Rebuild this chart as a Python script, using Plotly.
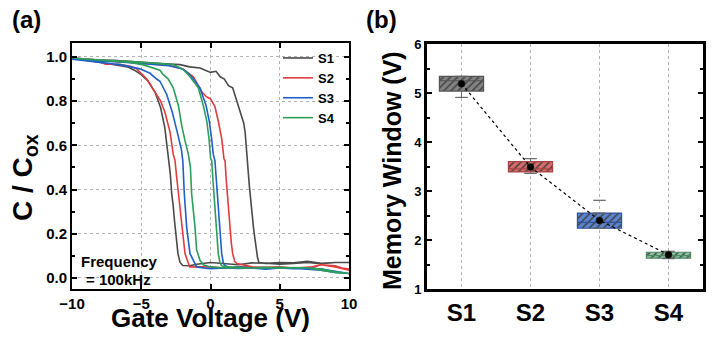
import plotly.graph_objects as go

# ---------------- Panel (a): C-V hysteresis data ----------------
# each series: forward sweep (-10 -> 10) followed by reverse sweep (10 -> -10)
V_S1 = [-10, -9, -8, -7, -6, -5, -4, -3, -2.2, -1.5, -0.76, 0.0, 0.4, 0.7, 1.0, 1.3, 1.6, 1.9, 2.1, 2.25,
        2.4, 2.5, 2.6, 2.7, 2.8, 2.9, 3.0, 3.1, 3.2, 3.3, 3.4, 3.5, 4, 5, 6, 7, 8, 9, 10,
        10, 9, 8, 7, 6, 5, 4, 3, 2, 1, 0, -1, -1.5, -2.0, -2.2, -2.35, -2.5, -2.6, -2.7, -2.8, -2.9,
        -3.0, -3.1, -3.3, -3.6, -4.0, -4.5, -5.0, -5.5, -6, -6.5, -7, -8, -9, -10]
C_S1 = [0.995, 0.99, 0.985, 0.985, 0.98, 0.975, 0.972, 0.968, 0.965, 0.955, 0.95, 0.93, 0.935, 0.91, 0.9, 0.87,
        0.86, 0.80, 0.77, 0.74, 0.70, 0.66, 0.56, 0.50, 0.42, 0.35, 0.29, 0.23, 0.18, 0.13, 0.09, 0.07,
        0.066, 0.07, 0.068, 0.075, 0.066, 0.07, 0.07,
        0.068, 0.07, 0.065, 0.07, 0.066, 0.062, 0.067, 0.068, 0.06, 0.065, 0.07, 0.062, 0.055, 0.056, 0.07,
        0.11, 0.19, 0.26, 0.33, 0.38, 0.47, 0.53, 0.59, 0.68, 0.77, 0.84, 0.89, 0.92, 0.94, 0.955, 0.96,
        0.965, 0.975, 0.985, 0.995]

V_S2 = [-10, -9, -8, -7, -6, -5, -4, -3, -2, -1.24, -0.64, -0.3, 0, 0.32, 0.56, 0.81, 0.97, 1.05, 1.13, 1.21,
        1.31, 1.41, 1.5, 1.6, 1.75, 1.9, 2.5, 3, 4, 5, 6, 7, 7.5, 8, 8.5, 9, 9.5, 10,
        10, 9, 8, 7, 6, 5, 4, 3, 2, 1, 0, -1, -1.5, -1.84, -1.95, -2.08, -2.2, -2.32, -2.45, -2.56, -2.69,
        -2.92, -3.29, -3.6, -4.0, -4.6, -5.33, -5.8, -6.6, -7.6, -8, -9, -10]
C_S2 = [0.995, 0.99, 0.985, 0.983, 0.978, 0.972, 0.965, 0.962, 0.945, 0.91, 0.843, 0.82, 0.81, 0.775, 0.71,
        0.63, 0.54, 0.53, 0.45, 0.38, 0.30, 0.23, 0.16, 0.11, 0.075, 0.065, 0.055, 0.05, 0.048, 0.05, 0.045,
        0.048, 0.05, 0.06, 0.058, 0.055, 0.045, 0.04,
        0.035, 0.05, 0.06, 0.045, 0.046, 0.048, 0.045, 0.048, 0.05, 0.045, 0.05, 0.05, 0.05, 0.11, 0.17,
        0.23, 0.31, 0.38, 0.46, 0.53, 0.56, 0.66, 0.75, 0.80, 0.84, 0.90, 0.946, 0.958, 0.967, 0.967, 0.98,
        0.99, 0.995]

V_S3 = [-10, -9, -8, -7, -6, -5, -4, -3, -2, -1.5, -1.24, -0.76, -0.32, -0.09, 0.08, 0.2, 0.32, 0.42, 0.52,
        0.6, 0.69, 0.75, 0.81, 0.92, 1.05, 1.5, 2, 3, 4, 5, 6, 7, 8, 9, 10,
        10, 9, 8, 7, 6, 5, 4, 3, 2, 1, 0, -0.5, -1.0, -1.48, -1.6, -1.72, -1.8, -1.89, -2.0, -2.1, -2.4,
        -2.76, -3.16, -3.65, -3.89, -4.37, -5.1, -5.8, -6.5, -7, -8, -9, -10]
C_S3 = [0.99, 0.985, 0.98, 0.978, 0.975, 0.97, 0.968, 0.96, 0.945, 0.92, 0.9, 0.86, 0.78, 0.71, 0.63, 0.56,
        0.53, 0.45, 0.38, 0.30, 0.23, 0.16, 0.11, 0.07, 0.055, 0.045, 0.05, 0.045, 0.043, 0.047, 0.045,
        0.04, 0.035, 0.025, 0.02,
        0.02, 0.03, 0.04, 0.045, 0.042, 0.045, 0.04, 0.045, 0.043, 0.045, 0.042, 0.045, 0.05, 0.11, 0.17,
        0.23, 0.30, 0.38, 0.53, 0.58, 0.66, 0.75, 0.83, 0.89, 0.90, 0.926, 0.946, 0.956, 0.965, 0.968,
        0.975, 0.985, 0.99]

V_S4 = [-10, -9, -8, -7, -6, -5, -4, -3, -2.69, -2, -1.48, -0.88, -0.52, -0.27, -0.11, 0.01, 0.09, 0.17, 0.25,
        0.33, 0.4, 0.48, 0.56, 0.68, 0.81, 1.2, 2, 3, 4, 5, 6, 7, 7.5, 8, 9, 10,
        10, 9, 8, 7, 6, 5, 4, 3, 2, 1, 0, -0.52, -0.76, -1.0, -1.12, -1.25, -1.36, -1.45, -1.6, -1.84,
        -2.08, -2.32, -2.69, -3.05, -3.41, -3.65, -4.85, -5.8, -7, -8, -9, -10]
C_S4 = [0.995, 0.99, 0.985, 0.983, 0.98, 0.975, 0.972, 0.968, 0.965, 0.945, 0.91, 0.86, 0.78, 0.71, 0.63,
        0.54, 0.53, 0.45, 0.38, 0.30, 0.23, 0.16, 0.11, 0.07, 0.055, 0.05, 0.048, 0.045, 0.048, 0.045,
        0.047, 0.045, 0.04, 0.035, 0.025, 0.02,
        0.02, 0.028, 0.04, 0.045, 0.045, 0.048, 0.045, 0.045, 0.048, 0.045, 0.05, 0.06, 0.08, 0.127, 0.23,
        0.30, 0.38, 0.50, 0.56, 0.62, 0.69, 0.78, 0.86, 0.90, 0.92, 0.94, 0.964, 0.975, 0.982, 0.985,
        0.99, 0.995]

series_names = ["S1", "S2", "S3", "S4"]
line_colors = ["#4a4a4a", "#e03c3c", "#1f5fc8", "#2e9e5b"]

# ---------------- Panel (b): memory window box statistics ----------------
categories = ["S1", "S2", "S3", "S4"]
q1 = [5.04, 3.39, 2.24, 1.63]
median = [5.25, 3.45, 2.36, 1.68]
q3 = [5.34, 3.60, 2.55, 1.75]
mean = [5.19, 3.49, 2.40, 1.70]
whisker_lo = [4.91, 3.36, 2.24, 1.62]
whisker_hi = [5.34, 3.66, 2.55, 1.77]
outlier_x = ["S3"]
outlier_y = [2.81]

box_fill = ["#838383", "#dd6a6a", "#5a84d2", "#8cc4a2"]
box_edge = ["#555555", "#a84444", "#30529a", "#4c8866"]
hatch = ["#4a4a4a", "#a83434", "#25468e", "#467e5e"]

FONT = "Arial, Liberation Sans, sans-serif"
W, H = 715, 344

fig = go.Figure()

CV_DATA = [(V_S1, C_S1), (V_S2, C_S2), (V_S3, C_S3), (V_S4, C_S4)]
for name, col, (vv, cc) in zip(series_names, line_colors, CV_DATA):
    fig.add_trace(go.Scatter(x=vv, y=cc, mode="lines", name=name,
                             line=dict(color=col, width=1.6), xaxis="x", yaxis="y"))

xi = list(range(len(categories)))
box_w = 0.64
fig.add_trace(go.Bar(x=xi, base=q1, y=[b - a for a, b in zip(q1, q3)], width=box_w,
                     marker=dict(color=box_fill, opacity=1,
                                 pattern=dict(shape="/", fgcolor=hatch, fgopacity=1, size=5,
                                              solidity=0.3, fillmode="overlay"),
                                 line=dict(color=box_edge, width=1.2)),
                     xaxis="x2", yaxis="y2", showlegend=False))

for i in xi:
    # median line
    fig.add_trace(go.Scatter(x=[i - box_w / 2, i + box_w / 2], y=[median[i], median[i]], mode="lines",
                             line=dict(color=box_edge[i], width=1.2), xaxis="x2", yaxis="y2", showlegend=False))
    # whiskers
    fig.add_trace(go.Scatter(x=[i, i, None, i, i], y=[q1[i], whisker_lo[i], None, q3[i], whisker_hi[i]],
                             mode="lines", line=dict(color="#666666", width=1), xaxis="x2", yaxis="y2",
                             showlegend=False))
    fig.add_trace(go.Scatter(x=[i, i], y=[whisker_lo[i], whisker_hi[i]], mode="markers",
                             marker=dict(symbol="line-ew", size=9, line=dict(color="#666666", width=1.2)),
                             xaxis="x2", yaxis="y2", showlegend=False))

fig.add_trace(go.Scatter(x=[categories.index(c) for c in outlier_x], y=outlier_y, mode="markers",
                         marker=dict(symbol="line-ew", size=9, line=dict(color="#666666", width=1.2)),
                         xaxis="x2", yaxis="y2", showlegend=False))

fig.add_trace(go.Scatter(x=xi, y=mean, mode="lines", line=dict(color="black", width=1.2, dash="dot"),
                         xaxis="x2", yaxis="y2", showlegend=False))
fig.add_trace(go.Scatter(x=xi, y=mean, mode="markers",
                         marker=dict(symbol="circle", size=7, color="black", line=dict(color="#222", width=0.5)),
                         xaxis="x2", yaxis="y2", showlegend=False))

def px(x):
    return x / W

def py(y):
    return 1 - y / H

grid_col = "#b4b4b4"
fig.update_layout(
    width=W, height=H, margin=dict(l=0, r=0, t=0, b=0, autoexpand=False),
    paper_bgcolor="white", plot_bgcolor="white",
    font=dict(family=FONT, color="black"),
    xaxis=dict(domain=[px(72), px(349)], range=[-10, 10], dtick=5, showgrid=True, gridcolor=grid_col,
               griddash="dot", gridwidth=1, zeroline=False, showline=True, linecolor="black", linewidth=2,
               mirror="ticks", ticks="inside", ticklen=5, tickwidth=1.5, tickcolor="black",
               tickfont=dict(size=15, family=FONT, weight="bold"), anchor="y", automargin=False),
    yaxis=dict(domain=[py(289), py(43)], range=[-0.05, 1.063], dtick=0.2, tick0=0, tickformat=".1f",
               showgrid=True, gridcolor=grid_col, griddash="dot", gridwidth=1, zeroline=False,
               showline=True, linecolor="black", linewidth=2, mirror="ticks", ticks="inside", ticklen=5,
               tickwidth=1.5, tickcolor="black", tickfont=dict(size=15, family=FONT, weight="bold"),
               minor=dict(dtick=0.1, ticks="inside", ticklen=3, tickcolor="black", showgrid=False),
               anchor="x", automargin=False),
    xaxis2=dict(domain=[px(427), px(703)], range=[-0.5, 3.5], tickvals=xi, ticktext=categories,
                showgrid=True, gridcolor=grid_col, griddash="dot", gridwidth=1, zeroline=False,
                showline=True, linecolor="black", linewidth=3, mirror=True, ticks="",
                tickfont=dict(size=24, family=FONT, weight="bold"), anchor="y2", automargin=False),
    yaxis2=dict(domain=[py(289), py(44)], range=[1, 6], dtick=1, showgrid=False, zeroline=False,
                showline=True, linecolor="black", linewidth=3, mirror="ticks", ticks="inside", ticklen=5,
                tickwidth=2, tickcolor="black", tickfont=dict(size=13, family=FONT, weight="bold"),
                minor=dict(dtick=0.5, ticks="inside", ticklen=3, tickwidth=2, tickcolor="black"),
                anchor="x2", automargin=False),
    legend=dict(x=px(278), y=py(43), xanchor="left", yanchor="top", bgcolor="rgba(0,0,0,0)",
                font=dict(size=13, family=FONT, weight="bold"), tracegroupgap=0, itemwidth=30),
    showlegend=True,
)

annots = [
    dict(text="<b>(a)</b>", x=px(10), y=py(20), xanchor="left", yanchor="middle", size=24, angle=0),
    dict(text="<b>(b)</b>", x=px(364), y=py(20), xanchor="left", yanchor="middle", size=24, angle=0),
    dict(text="<b>Gate Voltage (V)</b>", x=px(210), y=py(318), xanchor="center", yanchor="middle", size=26, angle=0),
    dict(text="<b>C / C<sub>ox</sub></b>", x=px(24), y=py(178), xanchor="center", yanchor="middle", size=28, angle=-90),
    dict(text="<b>Memory Window (V)</b>", x=px(392), y=py(171), xanchor="center", yanchor="middle", size=25, angle=-90),
    dict(text="<b>Frequency</b>", x=px(79), y=py(261), xanchor="left", yanchor="middle", size=15, angle=0),
    dict(text="<b>= 100kHz</b>", x=px(84), y=py(279), xanchor="left", yanchor="middle", size=15, angle=0),
]
for a in annots:
    fig.add_annotation(text=a["text"], x=a["x"], y=a["y"], xref="paper", yref="paper",
                       xanchor=a["xanchor"], yanchor=a["yanchor"], showarrow=False, textangle=a["angle"],
                       font=dict(size=a["size"], family=FONT, color="black"))

fig.write_html("out.html")
